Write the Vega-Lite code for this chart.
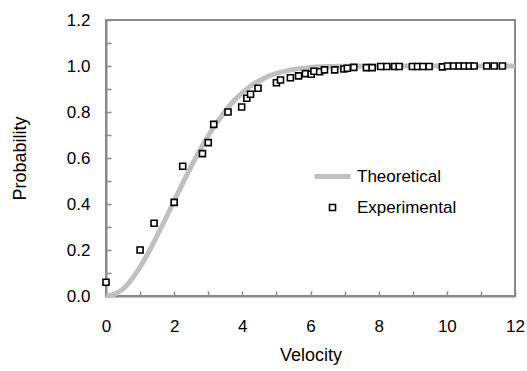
{
  "$schema": "https://vega.github.io/schema/vega-lite/v6.json",
  "width": 409,
  "height": 276,
  "autosize": "none",
  "padding": {"left": 106, "top": 20, "right": 12, "bottom": 75},
  "background": "white",
  "config": {
    "font": "Liberation Sans",
    "view": {"stroke": "#8a8a8a", "strokeWidth": 2},
    "axis": {
      "grid": false,
      "domainColor": "#8a8a8a",
      "domainWidth": 2,
      "tickColor": "#8a8a8a",
      "tickWidth": 1.5,
      "tickSize": -5,
      "labelFont": "Liberation Sans",
      "labelFontSize": 17,
      "labelColor": "black",
      "titleFont": "Liberation Sans",
      "titleFontSize": 18,
      "titleFontWeight": "normal",
      "titleColor": "black"
    }
  },
  "data": {
    "values": [
      {"v": 0, "p": 0, "series": "Theoretical"},
      {"v": 0.25, "p": 0.008, "series": "Theoretical"},
      {"v": 0.5, "p": 0.031, "series": "Theoretical"},
      {"v": 0.75, "p": 0.072, "series": "Theoretical"},
      {"v": 1.0, "p": 0.126, "series": "Theoretical"},
      {"v": 1.25, "p": 0.19, "series": "Theoretical"},
      {"v": 1.5, "p": 0.262, "series": "Theoretical"},
      {"v": 1.75, "p": 0.337, "series": "Theoretical"},
      {"v": 2.0, "p": 0.413, "series": "Theoretical"},
      {"v": 2.25, "p": 0.49, "series": "Theoretical"},
      {"v": 2.5, "p": 0.563, "series": "Theoretical"},
      {"v": 2.75, "p": 0.633, "series": "Theoretical"},
      {"v": 3.0, "p": 0.697, "series": "Theoretical"},
      {"v": 3.25, "p": 0.754, "series": "Theoretical"},
      {"v": 3.5, "p": 0.804, "series": "Theoretical"},
      {"v": 3.75, "p": 0.848, "series": "Theoretical"},
      {"v": 4.0, "p": 0.884, "series": "Theoretical"},
      {"v": 4.25, "p": 0.913, "series": "Theoretical"},
      {"v": 4.5, "p": 0.936, "series": "Theoretical"},
      {"v": 4.75, "p": 0.955, "series": "Theoretical"},
      {"v": 5.0, "p": 0.968, "series": "Theoretical"},
      {"v": 5.5, "p": 0.985, "series": "Theoretical"},
      {"v": 6.0, "p": 0.994, "series": "Theoretical"},
      {"v": 6.5, "p": 0.998, "series": "Theoretical"},
      {"v": 7.0, "p": 0.999, "series": "Theoretical"},
      {"v": 8.0, "p": 1.0, "series": "Theoretical"},
      {"v": 10.0, "p": 1.0, "series": "Theoretical"},
      {"v": 12.0, "p": 1.0, "series": "Theoretical"},
      {"v": 0.0, "p": 0.06, "series": "Experimental"},
      {"v": 1.0, "p": 0.2, "series": "Experimental"},
      {"v": 1.41, "p": 0.316, "series": "Experimental"},
      {"v": 2.0, "p": 0.407, "series": "Experimental"},
      {"v": 2.25, "p": 0.564, "series": "Experimental"},
      {"v": 2.83, "p": 0.619, "series": "Experimental"},
      {"v": 3.0, "p": 0.667, "series": "Experimental"},
      {"v": 3.16, "p": 0.746, "series": "Experimental"},
      {"v": 3.58, "p": 0.8, "series": "Experimental"},
      {"v": 3.98, "p": 0.822, "series": "Experimental"},
      {"v": 4.13, "p": 0.86, "series": "Experimental"},
      {"v": 4.24, "p": 0.877, "series": "Experimental"},
      {"v": 4.46, "p": 0.903, "series": "Experimental"},
      {"v": 5.0, "p": 0.927, "series": "Experimental"},
      {"v": 5.12, "p": 0.939, "series": "Experimental"},
      {"v": 5.41, "p": 0.949, "series": "Experimental"},
      {"v": 5.65, "p": 0.957, "series": "Experimental"},
      {"v": 5.85, "p": 0.967, "series": "Experimental"},
      {"v": 6.02, "p": 0.964, "series": "Experimental"},
      {"v": 6.1, "p": 0.977, "series": "Experimental"},
      {"v": 6.27, "p": 0.975, "series": "Experimental"},
      {"v": 6.41, "p": 0.983, "series": "Experimental"},
      {"v": 6.71, "p": 0.983, "series": "Experimental"},
      {"v": 6.98, "p": 0.987, "series": "Experimental"},
      {"v": 7.08, "p": 0.99, "series": "Experimental"},
      {"v": 7.27, "p": 0.994, "series": "Experimental"},
      {"v": 7.64, "p": 0.993, "series": "Experimental"},
      {"v": 7.81, "p": 0.993, "series": "Experimental"},
      {"v": 8.06, "p": 0.998, "series": "Experimental"},
      {"v": 8.24, "p": 0.998, "series": "Experimental"},
      {"v": 8.47, "p": 0.998, "series": "Experimental"},
      {"v": 8.6, "p": 0.998, "series": "Experimental"},
      {"v": 8.99, "p": 0.998, "series": "Experimental"},
      {"v": 9.14, "p": 0.998, "series": "Experimental"},
      {"v": 9.3, "p": 0.998, "series": "Experimental"},
      {"v": 9.48, "p": 0.998, "series": "Experimental"},
      {"v": 9.87, "p": 0.996, "series": "Experimental"},
      {"v": 10.02, "p": 1.0, "series": "Experimental"},
      {"v": 10.2, "p": 1.0, "series": "Experimental"},
      {"v": 10.36, "p": 1.0, "series": "Experimental"},
      {"v": 10.51, "p": 1.0, "series": "Experimental"},
      {"v": 10.66, "p": 1.0, "series": "Experimental"},
      {"v": 10.8, "p": 1.0, "series": "Experimental"},
      {"v": 11.17, "p": 1.0, "series": "Experimental"},
      {"v": 11.39, "p": 1.0, "series": "Experimental"},
      {"v": 11.63, "p": 1.0, "series": "Experimental"}
    ]
  },
  "encoding": {
    "x": {
      "field": "v", "type": "quantitative", "title": "Velocity",
      "scale": {"domain": [0, 12], "nice": false},
      "axis": {
        "values": [0, 1, 2, 3, 4, 5, 6, 7, 8, 9, 10, 11, 12],
        "labelExpr": "datum.value % 2 === 0 ? datum.label : ''",
        "labelPadding": 27,
        "labelFlush": false,
        "titlePadding": 12
      }
    },
    "y": {
      "field": "p", "type": "quantitative", "title": "Probability",
      "scale": {"domain": [0, 1.2], "nice": false},
      "axis": {
        "values": [0, 0.1, 0.2, 0.3, 0.4, 0.5, 0.6, 0.7, 0.8, 0.9, 1.0, 1.1, 1.2],
        "labelExpr": "round(datum.value * 10) % 2 === 0 ? format(datum.value, '.1f') : ''",
        "labelPadding": 21,
        "labelFlush": false,
        "titlePadding": 37
      }
    },
    "color": {
      "field": "series", "type": "nominal",
      "scale": {"domain": ["Theoretical", "Experimental"], "range": ["#c0c0c0", "black"]},
      "legend": {
        "title": null,
        "orient": "none",
        "legendX": 206,
        "legendY": 136,
        "labelFontSize": 17,
        "labelFont": "Liberation Sans",
        "labelColor": "black",
        "labelOffset": 4,
        "rowPadding": 11,
        "symbolFillColor": "white"
      }
    },
    "strokeWidth": {
      "field": "series", "type": "nominal",
      "scale": {"domain": ["Theoretical", "Experimental"], "range": [5, 1.6]},
      "legend": {"title": null}
    }
  },
  "layer": [
    {
      "transform": [{"filter": "datum.series === 'Theoretical'"}],
      "mark": {"type": "line", "strokeCap": "butt", "interpolate": "monotone"}
    },
    {
      "transform": [{"filter": "datum.series === 'Experimental'"}],
      "mark": {"type": "point", "filled": false, "fill": "white", "opacity": 1},
      "encoding": {
        "shape": {
          "field": "series", "type": "nominal",
          "scale": {"domain": ["Theoretical", "Experimental"], "range": ["stroke", "square"]},
          "legend": {"title": null}
        },
        "size": {
          "field": "series", "type": "nominal",
          "scale": {"domain": ["Theoretical", "Experimental"], "range": [1296, 36]},
          "legend": {"title": null}
        }
      }
    }
  ]
}
